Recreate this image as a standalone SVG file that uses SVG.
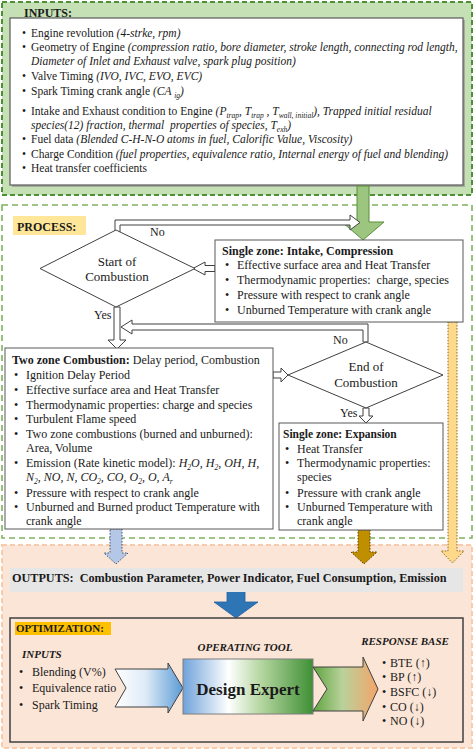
<svg xmlns="http://www.w3.org/2000/svg" width="474" height="750" viewBox="0 0 474 750">
<style>
text{font-family:"Liberation Serif","Times New Roman",serif;fill:#1a1a1a}
.t{font-size:11.5px}
.p{font-size:12px}
.b{font-weight:bold}
.it{font-style:italic}
.sub{font-size:7.5px}
.box{fill:#fff;stroke:#595959;stroke-width:1}
.dia{fill:#fff;stroke:#404040;stroke-width:1}
.hollow{fill:#fff;stroke:#404040;stroke-width:1}
.dot{stroke-dasharray:1.5 1.5;stroke-width:1}
</style>
<defs>
<linearGradient id="gL" x1="0" y1="0" x2="1" y2="0">
<stop offset="0" stop-color="#ffffff"/><stop offset="0.45" stop-color="#deebf7"/><stop offset="1" stop-color="#5b9bd5"/>
</linearGradient>
<linearGradient id="gD" x1="0" y1="0" x2="1" y2="0">
<stop offset="0" stop-color="#6fa3da"/><stop offset="0.35" stop-color="#ffffff"/><stop offset="0.6" stop-color="#b5d6a0"/><stop offset="1" stop-color="#3e8f35"/>
</linearGradient>
<linearGradient id="gR" x1="0" y1="0" x2="1" y2="0">
<stop offset="0" stop-color="#5ea33f"/><stop offset="0.45" stop-color="#b9d29b"/><stop offset="1" stop-color="#f4a46a"/>
</linearGradient>
</defs>

<!-- panels -->
<g id="inputs-panel">
<rect x="2" y="2" width="470" height="193" fill="#c5e0b4" stroke="#4f8f35" stroke-width="2" stroke-dasharray="5 3"/>
<text x="24" y="17" class="b" font-size="12">INPUTS:</text>
<rect x="12" y="20" width="453" height="167" fill="#8a8a8a" opacity="0.6"/>
<rect x="10" y="18" width="453" height="167" fill="#fff" stroke="#5a5a5a" stroke-width="1.2"/>
<g class="t">
<text x="22" y="37">•</text><text x="31" y="37">Engine revolution <tspan class="it">(4-strke, rpm)</tspan></text>
<text x="22" y="51">•</text><text x="31" y="51">Geometry of Engine <tspan class="it">(compression ratio, bore diameter, stroke length, connecting rod length,</tspan></text>
<text x="31" y="65" class="it">Diameter of Inlet and Exhaust valve, spark plug position)</text>
<text x="22" y="80">•</text><text x="31" y="80">Valve Timing <tspan class="it">(IVO, IVC, EVO, EVC)</tspan></text>
<text x="22" y="95">•</text><text x="31" y="95">Spark Timing crank angle <tspan class="it">(CA <tspan class="sub" dy="2.5">ig</tspan><tspan dy="-2.5">)</tspan></tspan></text>
<text x="22" y="115">•</text><text x="31" y="115">Intake and Exhaust condition to Engine <tspan class="it">(P<tspan class="sub" dy="2.5">trap</tspan><tspan dy="-2.5">, T</tspan><tspan class="sub" dy="2.5">trap</tspan><tspan dy="-2.5"> , T</tspan><tspan class="sub" dy="2.5">wall, initial</tspan><tspan dy="-2.5">), Trapped initial residual</tspan></tspan></text>
<text x="31" y="129" class="it">species(12) fraction, thermal&#160; properties of species, T<tspan class="sub" dy="2.5">exh</tspan><tspan dy="-2.5">)</tspan></text>
<text x="22" y="143">•</text><text x="31" y="143">Fuel data <tspan class="it">(Blended C-H-N-O atoms in fuel, Calorific Value, Viscosity)</tspan></text>
<text x="22" y="158">•</text><text x="31" y="158">Charge Condition <tspan class="it">(fuel properties, equivalence ratio, Internal energy of fuel and blending)</tspan></text>
<text x="22" y="172">•</text><text x="31" y="172">Heat transfer coefficients</text>
</g>
</g>

<g id="process-panel">
<rect x="2" y="205" width="470" height="333" fill="#fff" stroke="#7fb35e" stroke-width="1.6" stroke-dasharray="6 4"/>
<rect x="13" y="216" width="73" height="19" fill="#ffe699"/>
<text x="17" y="231" class="b p">PROCESS:</text>
</g>

<g id="outputs-panel">
<rect x="2" y="545" width="470" height="203" fill="#fbe5d6" stroke="#f8cbad" stroke-width="2" stroke-dasharray="5 3"/>
</g>

<!-- connectors -->
<g id="connectors">
<polygon points="357,186 369,186 369,222 384,222 363,240 342,222 357,222" fill="#9cc57f" stroke="#5a8f3c" stroke-width="1"/>
<polygon class="hollow" points="115,232 115,220 350,220 350,215 360,222.5 350,230 350,225 120,225 120,232"/>
<text x="150" y="236" class="p">No</text>
<polygon class="hollow" points="215,265.5 205,265.5 205,262 193,268.5 205,275 205,271.5 215,271.5"/>
<polygon class="hollow" points="114,307 114,340 108,340 117,349 126,340 120,340 120,307"/>
<text x="94" y="319" class="p">Yes</text>
<polygon class="hollow" points="363,342 363,330 132,330 132,334 121,327 132,320 132,324 368,324 368,342"/>
<text x="333" y="344" class="p">No</text>
<polygon class="hollow" points="273,372 281,372 281,368 288,375 281,382 281,378 273,378"/>
<polygon class="hollow" points="363,408 363,416 359,416 366,423 373,416 369,416 369,408"/>
<text x="340" y="417" class="p">Yes</text>
<polygon class="dot" points="110,529 122,529 122,553 128,553 116,564 104,553 110,553" fill="#b4c7e7" stroke="#44546a"/>
<polygon class="dot" points="358,530 370,530 370,552 377,552 364,564 351,552 358,552" fill="#bf8f00" stroke="#5a4300"/>
<polygon class="dot" points="448,322 457,322 457,551 464,551 452.5,563 441,551 448,551" fill="#ffd98a" stroke="#8a6a20"/>
<polygon points="227,591 245,591 245,602 258,602 236,618 214,602 227,602" fill="#2e75b6" stroke="#1f5f9f" stroke-width="0.8"/>
</g>

<!-- process nodes -->
<g id="single-zone-compression">
<rect class="box" x="215" y="240" width="248" height="82"/>
<text x="222" y="255" class="b p">Single zone: Intake, Compression</text>
<g class="p">
<text x="225" y="269">•</text><text x="237" y="269">Effective surface area and Heat Transfer</text>
<text x="225" y="284">•</text><text x="237" y="284">Thermodynamic properties:&#160; charge, species</text>
<text x="225" y="299">•</text><text x="237" y="299">Pressure with respect to crank angle</text>
<text x="225" y="314">•</text><text x="237" y="314">Unburned Temperature with crank angle</text>
</g>
</g>

<g id="start-of-combustion">
<polygon class="dia" points="40,268.5 116,230 195,268.5 116,307"/>
<text x="117" y="266" text-anchor="middle" font-size="13">Start of</text>
<text x="117" y="281" text-anchor="middle" font-size="13">Combustion</text>
</g>

<g id="two-zone-combustion">
<rect class="box" x="5" y="348" width="268" height="181"/>
<text x="12" y="364" class="p"><tspan class="b">Two zone Combustion:</tspan> Delay period, Combustion</text>
<g class="p">
<text x="14" y="379">•</text><text x="26" y="379">Ignition Delay Period</text>
<text x="14" y="394">•</text><text x="26" y="394">Effective surface area and Heat Transfer</text>
<text x="14" y="409">•</text><text x="26" y="409">Thermodynamic properties: charge and species</text>
<text x="14" y="423">•</text><text x="26" y="423">Turbulent Flame speed</text>
<text x="14" y="438">•</text><text x="26" y="438">Two zone combustions (burned and unburned):</text>
<text x="26" y="452">Area, Volume</text>
<text x="14" y="467">•</text><text x="26" y="467">Emission (Rate kinetic model): <tspan class="it">H<tspan class="sub" dy="2.5">2</tspan><tspan dy="-2.5">O, H</tspan><tspan class="sub" dy="2.5">2</tspan><tspan dy="-2.5">, OH, H,</tspan></tspan></text>
<text x="26" y="481" class="it">N<tspan class="sub" dy="2.5">2</tspan><tspan dy="-2.5">, NO, N, CO</tspan><tspan class="sub" dy="2.5">2</tspan><tspan dy="-2.5">, CO, O</tspan><tspan class="sub" dy="2.5">2</tspan><tspan dy="-2.5">, O, A</tspan><tspan class="sub" dy="2.5">r</tspan></text>
<text x="14" y="497">•</text><text x="26" y="497">Pressure with respect to crank angle</text>
<text x="14" y="511">•</text><text x="26" y="511">Unburned and Burned product Temperature with</text>
<text x="26" y="525">crank angle</text>
</g>
</g>

<g id="end-of-combustion">
<polygon class="dia" points="288,375 366,342 443,375 366,408"/>
<text x="366" y="371" text-anchor="middle" font-size="13">End of</text>
<text x="366" y="387" text-anchor="middle" font-size="13">Combustion</text>
</g>

<g id="single-zone-expansion">
<rect class="box" x="279" y="423" width="164" height="107"/>
<text x="283" y="438" class="b" font-size="11.5">Single zone: Expansion</text>
<g class="p">
<text x="285" y="453">•</text><text x="297" y="453">Heat Transfer</text>
<text x="285" y="467">•</text><text x="297" y="467">Thermodynamic properties:</text>
<text x="297" y="481">species</text>
<text x="285" y="497">•</text><text x="297" y="497">Pressure with crank angle</text>
<text x="285" y="511">•</text><text x="297" y="511">Unburned Temperature with</text>
<text x="297" y="525">crank angle</text>
</g>
</g>

<g id="outputs">
<rect x="10" y="568" width="453" height="24" fill="#e7e6e6"/>
<text x="12" y="582" class="b" font-size="12.2">OUTPUTS:&#160; Combustion Parameter, Power Indicator, Fuel Consumption, Emission</text>
</g>

<g id="optimization">
<rect x="10" y="618" width="453" height="124" fill="none" stroke="#404040" stroke-width="1.5"/>
<rect x="15" y="622" width="96" height="13" fill="#ffc000"/>
<text x="16" y="632" class="b" font-size="11">OPTIMIZATION:</text>
</g>

<g id="opt-inputs">
<text x="22" y="658" class="b it" font-size="11">INPUTS</text>
<g class="p">
<text x="19" y="676">•</text><text x="32" y="676">Blending (V%)</text>
<text x="19" y="692">•</text><text x="32" y="692">Equivalence ratio</text>
<text x="19" y="709">•</text><text x="32" y="709">Spark Timing</text>
</g>
<polygon points="115,669 168,669 168,663 183,688 168,713 168,707 115,707 126,688" fill="url(#gL)" stroke="#404040" stroke-width="1"/>
</g>

<g id="operating-tool">
<text x="245" y="651" class="b it" font-size="11" text-anchor="middle">OPERATING TOOL</text>
<rect x="183" y="659" width="130" height="55" fill="url(#gD)" stroke="#7f7f7f" stroke-width="1"/>
<text x="248" y="695" class="b" font-size="17" text-anchor="middle">Design Expert</text>
</g>

<g id="response-base">
<polygon points="313,667 363,667 363,657 378,689 363,721 363,711 313,711 327,689" fill="url(#gR)" stroke="#404040" stroke-width="1"/>
<text x="405" y="645" class="b it" font-size="11" text-anchor="middle">RESPONSE BASE</text>
<g class="p">
<text x="382" y="667">•</text><text x="390" y="667">BTE (↑)</text>
<text x="382" y="681">•</text><text x="390" y="681">BP (↑)</text>
<text x="382" y="696">•</text><text x="390" y="696">BSFC (↓)</text>
<text x="382" y="711">•</text><text x="390" y="711">CO (↓)</text>
<text x="382" y="725">•</text><text x="390" y="725">NO (↓)</text>
</g>
</g>
</svg>
